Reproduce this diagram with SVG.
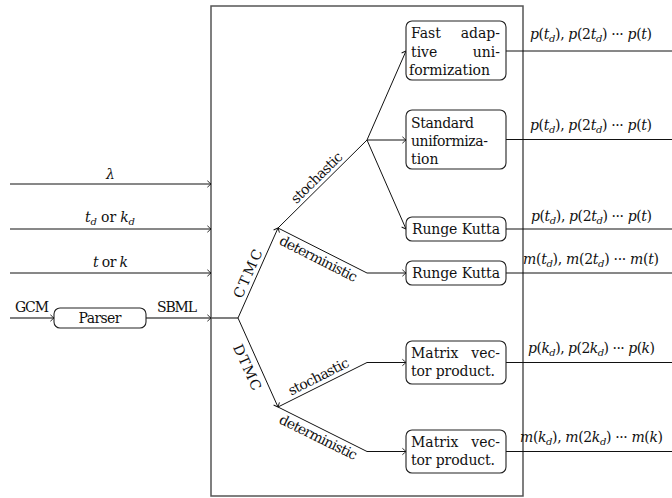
<svg xmlns="http://www.w3.org/2000/svg" width="672" height="498" viewBox="0 0 672 498">
<style>
.t{font-family:"DejaVu Serif","Liberation Serif",serif;font-size:14px;fill:#111}
.i{font-style:italic}
.s{font-size:10px;font-style:italic}
.box{fill:#fff;stroke:#222;stroke-width:1.1}
.ln{fill:none;stroke:#111;stroke-width:1}
.gr{fill:none;stroke:#555;stroke-width:1.5}
</style>
<defs>
<marker id="ar" markerUnits="userSpaceOnUse" markerWidth="10" markerHeight="10" refX="0" refY="0" viewBox="-5 -5 10 10" orient="auto" overflow="visible">
<path d="M-3.6,-3.2 Q-1,-0.9 0,0 Q-1,0.9 -3.6,3.2" fill="none" stroke="#111" stroke-width="0.9"/>
</marker>
</defs>
<rect id="frame" x="211" y="6" width="312" height="490" fill="none" stroke="#555" stroke-width="1.5"/>
<g id="connectors">
<path class="ln" d="M10,184 H211" marker-end="url(#ar)"/>
<path class="ln" d="M10,229 H211" marker-end="url(#ar)"/>
<path class="ln" d="M10,273 H211" marker-end="url(#ar)"/>
<path class="gr" d="M10,318 H54" marker-end="url(#ar)"/>
<path class="gr" d="M146,318 H211" marker-end="url(#ar)"/>
<path class="gr" d="M211,318 H238"/>
<path class="ln" d="M238,318 L278,228" marker-end="url(#ar)"/>
<path class="ln" d="M238,318 L278,407" marker-end="url(#ar)"/>
<path class="ln" d="M278,228 L367,140"/>
<path class="ln" d="M367,140 L406,51" marker-end="url(#ar)"/>
<path class="ln" d="M367,140 H406" marker-end="url(#ar)"/>
<path class="ln" d="M367,140 L406,229" marker-end="url(#ar)"/>
<path class="ln" d="M278,228 L367,273 H406" marker-end="url(#ar)"/>
<path class="ln" d="M278,407 L367,362.5 H406" marker-end="url(#ar)"/>
<path class="ln" d="M278,407 L367,451.5 H406" marker-end="url(#ar)"/>
<path class="ln" d="M506,51 H672"/>
<path class="ln" d="M506,139.5 H672"/>
<path class="ln" d="M506,229 H672"/>
<path class="ln" d="M506,273 H672"/>
<path class="ln" d="M506,362.5 H672"/>
<path class="ln" d="M506,451.5 H672"/>
</g>
<g id="labels">
<text class="t i" x="110.5" y="179" text-anchor="middle">λ</text>
<text class="t" x="85" y="222" textLength="50"><tspan class="i">t</tspan><tspan class="s" dy="3">d</tspan><tspan dy="-3"> or </tspan><tspan class="i">k</tspan><tspan class="s" dy="3">d</tspan></text>
<text class="t" x="93" y="267" textLength="35"><tspan class="i">t</tspan> or <tspan class="i">k</tspan></text>
<text class="t" x="15" y="312" textLength="34">GCM</text>
<text class="t" x="157" y="312" textLength="40">SBML</text>
<text class="t" transform="translate(252.4,275.6) rotate(-66)" text-anchor="middle" textLength="52">CTMC</text>
<text class="t" transform="translate(242.9,369.3) rotate(65.8)" text-anchor="middle" textLength="49">DTMC</text>
<text class="t" transform="translate(320,181) rotate(-44.7)" text-anchor="middle" textLength="66">stochastic</text>
<text class="t" transform="translate(316.2,263) rotate(26.8)" text-anchor="middle" textLength="85">deterministic</text>
<text class="t" transform="translate(320.7,380.9) rotate(-26.8)" text-anchor="middle" textLength="66">stochastic</text>
<text class="t" transform="translate(316.2,441.5) rotate(26.3)" text-anchor="middle" textLength="85">deterministic</text>
<text class="t" x="530" y="39" textLength="122"><tspan class="i">p</tspan>(<tspan class="i">t</tspan><tspan class="s" dy="3">d</tspan><tspan dy="-3">), </tspan><tspan class="i">p</tspan>(2<tspan class="i">t</tspan><tspan class="s" dy="3">d</tspan><tspan dy="-3">) ··· </tspan><tspan class="i">p</tspan>(<tspan class="i">t</tspan>)</text>
<text class="t" x="530" y="130" textLength="122"><tspan class="i">p</tspan>(<tspan class="i">t</tspan><tspan class="s" dy="3">d</tspan><tspan dy="-3">), </tspan><tspan class="i">p</tspan>(2<tspan class="i">t</tspan><tspan class="s" dy="3">d</tspan><tspan dy="-3">) ··· </tspan><tspan class="i">p</tspan>(<tspan class="i">t</tspan>)</text>
<text class="t" x="531" y="221" textLength="121"><tspan class="i">p</tspan>(<tspan class="i">t</tspan><tspan class="s" dy="3">d</tspan><tspan dy="-3">), </tspan><tspan class="i">p</tspan>(2<tspan class="i">t</tspan><tspan class="s" dy="3">d</tspan><tspan dy="-3">) ··· </tspan><tspan class="i">p</tspan>(<tspan class="i">t</tspan>)</text>
<text class="t" x="523" y="264" textLength="136"><tspan class="i">m</tspan>(<tspan class="i">t</tspan><tspan class="s" dy="3">d</tspan><tspan dy="-3">), </tspan><tspan class="i">m</tspan>(2<tspan class="i">t</tspan><tspan class="s" dy="3">d</tspan><tspan dy="-3">) ··· </tspan><tspan class="i">m</tspan>(<tspan class="i">t</tspan>)</text>
<text class="t" x="528" y="353" textLength="127"><tspan class="i">p</tspan>(<tspan class="i">k</tspan><tspan class="s" dy="3">d</tspan><tspan dy="-3">), </tspan><tspan class="i">p</tspan>(2<tspan class="i">k</tspan><tspan class="s" dy="3">d</tspan><tspan dy="-3">) ··· </tspan><tspan class="i">p</tspan>(<tspan class="i">k</tspan>)</text>
<text class="t" x="520" y="442" textLength="143"><tspan class="i">m</tspan>(<tspan class="i">k</tspan><tspan class="s" dy="3">d</tspan><tspan dy="-3">), </tspan><tspan class="i">m</tspan>(2<tspan class="i">k</tspan><tspan class="s" dy="3">d</tspan><tspan dy="-3">) ··· </tspan><tspan class="i">m</tspan>(<tspan class="i">k</tspan>)</text>
</g>
<g id="parser">
<rect class="box" x="54" y="308" width="92" height="20" rx="6"/>
<text class="t" x="100" y="323" text-anchor="middle" textLength="43">Parser</text>
</g>
<g id="fast-adaptive">
<rect class="box" x="406" y="21" width="100" height="59" rx="6"/>
<text class="t" x="411" y="38">Fast</text>
<text class="t" x="500" y="38" text-anchor="end">adap-</text>
<text class="t" x="411" y="56.5">tive</text>
<text class="t" x="500" y="56.5" text-anchor="end">uni-</text>
<text class="t" x="409" y="75" textLength="81">formization</text>
</g>
<g id="standard">
<rect class="box" x="406" y="110" width="100" height="59" rx="6"/>
<text class="t" x="411" y="128" textLength="63">Standard</text>
<text class="t" x="411" y="146" textLength="77">uniformiza-</text>
<text class="t" x="411" y="164">tion</text>
</g>
<g id="runge-kutta-1">
<rect class="box" x="406" y="217" width="100" height="24" rx="6"/>
<text class="t" x="456" y="233.5" text-anchor="middle" textLength="88">Runge Kutta</text>
</g>
<g id="runge-kutta-2">
<rect class="box" x="406" y="261" width="100" height="24" rx="6"/>
<text class="t" x="456" y="277.5" text-anchor="middle" textLength="88">Runge Kutta</text>
</g>
<g id="matrix-1">
<rect class="box" x="406" y="341" width="100" height="43" rx="6"/>
<text class="t" x="411" y="357.5">Matrix</text>
<text class="t" x="500" y="357.5" text-anchor="end">vec-</text>
<text class="t" x="411" y="375.5" textLength="84">tor product.</text>
</g>
<g id="matrix-2">
<rect class="box" x="406" y="430" width="100" height="43" rx="6"/>
<text class="t" x="411" y="446.5">Matrix</text>
<text class="t" x="500" y="446.5" text-anchor="end">vec-</text>
<text class="t" x="411" y="464.5" textLength="84">tor product.</text>
</g>
</svg>
